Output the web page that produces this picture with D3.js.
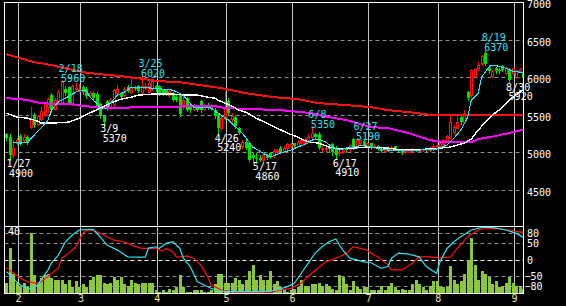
<!DOCTYPE html>
<html>
<head>
<meta charset="utf-8">
<script src="https://cdn.jsdelivr.net/npm/d3@7"></script>
<style>
  html, body { margin: 0; padding: 0; background: #000; }
  svg { display: block; }
  text { font-family: "DejaVu Sans Mono", "Liberation Mono", monospace; font-size: 10px; }
</style>
</head>
<body>
<div id="chart"></div>
<script>
// ------- data (daily candles, index 0 = first trading day shown) -------
const opens = [
  5240,5200,4960,5130,5220,5170,5210,5340,5495,5380, 5450,5495,5600,5770,5580,5680,5670,5850,5870,5660,
  5840,5820,5870,5850,5760,5790,5780,5640,5480,5680, 5600,5640,5790,5780,5760,5870,5800,5860,5880,5800,
  5860,5800,5850,5880,5880,5830,5830,5760,5790,5740, 5760,5600,5720,5620,5580,5620,5690,5580,5620,5590,
  5570,5500,5330,5460,5690,5440,5470,5330,5080,5140, 5120,4960,4930,4930,4900,4960,4990,4960,5010,5060,
  5020,5060,5090,5120,5080,5130,5130,5170,5200,5240, 5250,5040,5040,5060,5110,5060,4990,5010,5050,5040,
  5180,5080,5120,5150,5090,5120,5070,5090,5050,5020, 5050,5040,5080,5040,5030,5000,5010,5020,5040,5020,
  5030,5050,5030,5040,5080,5090,5110,5150,5200,5270, 5330,5470,5400,5800,5760,6020,6120,6190,6330,6130,
  6020,6120,6100,6150,6060,6110,6060,6010,6090,6060
];
const highs = [
  5260,5240,5160,5190,5240,5250,5230,5610,5520,5500, 5600,5690,5740,5790,5720,5830,5960,5890,5890,5900,
  5920,5910,5900,5870,5820,5800,5800,5660,5500,5700, 5730,5850,5900,5800,5870,5900,6010,5880,5900,6020,
  5930,5950,5970,5900,5900,5850,5840,5840,5800,5760, 5780,5780,5740,5640,5640,5630,5700,5640,5660,5640,
  5590,5510,5480,5820,5720,5520,5480,5340,5160,5160, 5140,5000,4990,4960,4980,4980,5000,5040,5050,5080,
  5080,5130,5130,5130,5160,5180,5200,5240,5350,5260, 5270,5080,5080,5080,5120,5080,5030,5050,5060,5120,
  5185,5190,5180,5170,5140,5130,5110,5100,5060,5050, 5060,5080,5090,5050,5040,5030,5040,5060,5050,5050,
  5060,5060,5070,5110,5130,5140,5180,5230,5500,5360, 5500,5500,5560,5820,6110,6130,6200,6300,6370,6160,
  6100,6140,6120,6170,6140,6130,6130,6100,6120,6080
];
const lows = [
  5170,4900,4940,5110,5100,5150,5110,5320,5340,5360, 5430,5480,5540,5540,5560,5650,5650,5760,5640,5630,
  5820,5800,5780,5730,5740,5700,5580,5460,5370,5570, 5580,5620,5760,5720,5740,5800,5790,5830,5800,5790,
  5840,5790,5830,5820,5770,5770,5760,5740,5690,5680, 5490,5580,5550,5540,5560,5550,5540,5560,5580,5570,
  5460,5240,5300,5440,5500,5400,5330,5250,5060,5040, 4880,4870,4860,4880,4880,4910,4930,4940,4990,4990,
  5000,5040,5070,5060,5070,5110,5120,5150,5190,5190, 5040,5020,5020,5020,4970,4910,4970,4990,5010,5020,
  5040,5060,5100,5090,5070,5050,5060,5030,5000,5010, 5020,5030,5040,5020,4980,4990,5000,5010,5020,5010,
  5020,5020,5020,5030,5070,5080,5100,5140,5190,5250, 5320,5380,5390,5700,5740,6000,6100,6170,6160,6060,
  6000,6060,6060,6080,6040,5920,6040,5990,6080,5980
];
const closes = [
  5190,4960,5060,5160,5120,5200,5120,5450,5360,5480, 5550,5670,5710,5560,5700,5800,5940,5790,5660,5880,
  5860,5850,5800,5750,5790,5720,5600,5480,5400,5590, 5700,5830,5850,5740,5840,5820,5870,5850,5820,5880,
  5890,5920,5950,5840,5790,5790,5780,5820,5700,5700, 5510,5700,5570,5560,5620,5570,5560,5620,5600,5610,
  5480,5330,5460,5600,5520,5480,5350,5260,5140,5060, 4900,4920,4910,4900,4960,4930,4950,5020,5030,5000,
  5060,5110,5110,5080,5140,5160,5180,5210,5260,5210, 5060,5060,5060,5040,5000,4960,5010,5030,5030,5100,
  5050,5160,5160,5100,5120,5060,5090,5040,5020,5040, 5030,5070,5050,5030,4990,5020,5030,5050,5030,5040,
  5050,5030,5060,5080,5100,5120,5170,5220,5400,5340, 5400,5400,5520,5720,6100,6110,6160,6290,6180,6080,
  6080,6080,6080,6100,6120,5960,6120,6080,6110,5990
];
const volumes = [
  7,30,13,7,4,7,4,40,12,7, 10,12,13,10,9,9,9,6,9,4,
  8,4,6,4,9,11,12,12,7,6, 7,11,9,11,6,5,9,7,6,7,
  7,7,7,2,1,2,1,3,2,4, 12,4,1,1,2,2,2,1,1,2,
  6,13,13,7,7,7,10,9,6,9, 15,19,9,12,9,9,15,6,8,4,
  3,1,2,3,4,9,5,5,6,6, 7,5,6,5,3,2,12,11,6,2,
  8,4,3,4,4,2,2,2,5,2, 5,7,4,2,3,2,2,6,9,6,
  4,2,5,8,8,4,4,4,18,9, 6,8,13,22,37,19,9,15,13,11,
  6,8,4,5,7,11,7,5,5,3
];

// moving averages: [day index, price]
const maShort = [[2,5127],[4,5123],[6,5127],[8,5229],[10,5322],[12,5429],[13,5562],[15,5672],[16,5695],[21,5828],
  [23,5828],[24,5739],[26,5655],[27,5589],[29,5589],[30,5655],[32,5762],[34,5802],[36,5868],[39,5864],[42,5855],
  [45,5842],[48,5828],[51,5762],[52,5700],[54,5602],[57,5602],[59,5589],[64,5429],[68,5256],[71,5069],[74,4989],
  [76,4936],[79,4989],[82,5029],[84,5069],[87,5123],[88,5162],[90,5176],[92,5136],[94,5069],[96,5029],[98,5056],
  [100,5069],[103,5096],[105,5069],[110,5029],[114,5029],[119,5029],[124,5043],[127,5096],[129,5189],[131,5296],
  [133,5469],[134,5695],[136,5788],[137,6001],[139,6134],[140,6161],[142,6148],[144,6121],[146,6081],[148,6068],[149,6060]];
const maMid = [[0,5522],[3,5469],[6,5455],[9,5415],[10,5389],[13,5389],[18,5402],[21,5455],[24,5522],[27,5589],
  [30,5655],[33,5708],[36,5735],[38,5762],[42,5775],[48,5775],[52,5762],[55,5762],[58,5735],[60,5722],[61,5695],
  [63,5655],[65,5615],[67,5562],[69,5535],[72,5455],[75,5389],[78,5322],[81,5256],[84,5202],[87,5136],[90,5123],
  [93,5069],[96,5043],[100,5056],[104,5069],[110,5056],[114,5029],[122,5043],[128,5069],[132,5123],[134,5176],
  [136,5296],[140,5495],[142,5562],[144,5655],[146,5735],[148,5802],[149,5830]];
const maLong = [[0,5722],[4,5708],[6,5695],[10,5655],[15,5642],[19,5642],[22,5615],[27,5602],[32,5589],[38,5602],
  [46,5602],[52,5615],[60,5615],[63,5589],[71,5575],[79,5562],[88,5522],[93,5469],[98,5429],[103,5362],[105,5336],
  [110,5322],[116,5256],[122,5162],[126,5136],[134,5136],[136,5176],[141,5216],[146,5269],[149,5300]];
const maYear = [[0,6308],[2,6281],[5,6241],[8,6201],[10,6188],[13,6161],[17,6121],[22,6068],[27,6041],[33,6015],
  [38,5988],[44,5948],[50,5935],[56,5895],[62,5855],[69,5788],[77,5735],[84,5708],[90,5655],[98,5629],[105,5602],
  [110,5562],[116,5535],[123,5495],[149,5495]];

// oscillator (lower panel): [day index, value]
const oscFast = [[0,-36],[1,-46],[2,-58],[4,-76],[6,-85],[7,-88],[9,-76],[10,-61],[12,-31],[13,-10],[15,13],[17,53],
  [19,73],[21,88],[24,90],[25,90],[27,68],[29,43],[32,28],[35,8],[38,7],[40,7],[41,34],[43,38],[44,33],[46,48],[48,53],
  [50,33],[51,4],[53,-21],[55,-66],[57,-76],[59,-86],[61,-94],[64,-96],[74,-96],[78,-91],[81,-81],[83,-71],[85,-41],
  [87,-11],[89,19],[91,38],[93,53],[95,61],[96,43],[97,28],[99,4],[101,-1],[103,-7],[105,-9],[108,-26],[110,-21],
  [111,4],[113,19],[116,16],[119,8],[121,-21],[124,-41],[125,-7],[127,33],[129,53],[131,68],[134,88],[137,96],
  [140,96],[144,88],[147,78],[149,66]];
const oscSlow = [[0,-25],[2,-40],[4,-55],[6,-66],[9,-71],[10,-66],[12,-51],[15,-25],[16,4],[18,19],[20,38],[22,78],
  [23,85],[25,88],[27,78],[29,68],[31,58],[34,53],[36,43],[39,33],[41,33],[43,33],[45,25],[46,33],[48,23],[49,8],
  [51,8],[52,11],[54,4],[56,-16],[58,-51],[59,-76],[62,-91],[66,-98],[76,-98],[79,-91],[82,-86],[85,-71],[88,-41],
  [92,-7],[96,8],[98,19],[100,38],[102,33],[104,28],[105,19],[107,8],[110,-16],[111,-31],[114,-31],[117,-11],
  [119,8],[122,8],[125,5],[128,8],[130,33],[133,68],[136,88],[137,91],[141,93],[145,88],[149,80]];

// ticks and labels
const priceTicks = [7000, 6500, 6000, 5500, 5000, 4500];
const oscTicks = [80, 50, 0, -50, -80];
const volLabel = 40;
const monthLabels = ["2","3","4","5","6","7","8","9"];
const monthStart = [4, 22, 44, 64, 83, 105, 125, 147];

// marked highs / lows
const markIdx  = [1, 16, 28, 39, 61, 72, 88, 95, 101, 138, 145];
const markDate = ["1/27","2/18","3/9","3/25","4/26","5/17","6/8","6/17","6/27","8/19","8/30"];
const markKind = ["low","high","low","high","low","low","high","low","high","high","low"];

// ------- drawing -------
const W = 566, H = 306;
const L = 4.5, R = 523.5, T = 2.5, MID = 226.5, B = 293.5;
const UP = "#ff1010", DOWN = "#00e000", CYAN = "#33e0f0";

const svg = d3.select("#chart").append("svg")
  .attr("width", W).attr("height", H)
  .style("background", "#000");

const n = opens.length;
const x = d3.scaleLinear().domain([0, n - 1]).range([6.4, 6.4 + 3.469 * (n - 1)]);
const xEdge = d3.scaleLinear().domain(x.domain()).range(x.range().map(v => v - 2.3));
const y = d3.scaleLinear().domain([4500, 7000]).range([189.75, 2.3]);
const yOsc = d3.scaleLinear().domain([-100, 100]).range([293, 226]);
const yVol = d3.scaleLinear().domain([0, volLabel]).range([293, 233]);

const defs = svg.append("defs");
defs.append("clipPath").attr("id", "clipMain")
  .append("rect").attr("x", L).attr("y", T).attr("width", R - L).attr("height", MID - T);
defs.append("clipPath").attr("id", "clipLow")
  .append("rect").attr("x", L).attr("y", MID).attr("width", R - L).attr("height", B - MID);

// vertical month lines through both panels
svg.append("g").selectAll("line").data(monthStart).join("line")
  .attr("x1", d => Math.round(xEdge(d)) + 0.5).attr("x2", d => Math.round(xEdge(d)) + 0.5)
  .attr("y1", T).attr("y2", B)
  .attr("stroke", "#c4c4c4").attr("stroke-width", 1);

// dashed price lines
svg.append("g").selectAll("line").data(priceTicks.filter(d => d < 7000)).join("line")
  .attr("x1", L).attr("x2", R)
  .attr("y1", d => Math.round(y(d)) + 0.5).attr("y2", d => Math.round(y(d)) + 0.5)
  .attr("stroke", "#8c8c8c").attr("stroke-dasharray", "4,3");

// dashed oscillator lines
svg.append("g").selectAll("line").data(oscTicks).join("line")
  .attr("x1", L).attr("x2", R)
  .attr("y1", d => Math.round(yOsc(d)) + 0.5).attr("y2", d => Math.round(yOsc(d)) + 0.5)
  .attr("stroke", d => d === 0 ? "#ffffff" : "#8c8c8c").attr("stroke-dasharray", "4,3");

// ------- main panel -------
const gMain = svg.append("g").attr("clip-path", "url(#clipMain)");

const idx = d3.range(n);
const cg = gMain.append("g").attr("shape-rendering", "crispEdges");
cg.selectAll("line.wick").data(idx).join("line").attr("class", "wick")
  .attr("x1", i => Math.round(x(i)) + 0.5).attr("x2", i => Math.round(x(i)) + 0.5)
  .attr("y1", i => Math.round(y(highs[i]))).attr("y2", i => Math.round(y(lows[i])) + 1)
  .attr("stroke", i => closes[i] >= opens[i] ? UP : DOWN);

cg.selectAll("rect.up").data(idx.filter(i => closes[i] >= opens[i])).join("rect").attr("class", "up")
  .attr("x", i => Math.round(x(i)) - 0.5)
  .attr("y", i => Math.round(y(closes[i])) + 0.5)
  .attr("width", 2)
  .attr("height", i => Math.max(1, Math.round(y(opens[i])) - Math.round(y(closes[i]))))
  .attr("fill", "#000").attr("stroke", UP);

cg.selectAll("rect.down").data(idx.filter(i => closes[i] < opens[i])).join("rect").attr("class", "down")
  .attr("x", i => Math.round(x(i)) - 1)
  .attr("y", i => Math.round(y(opens[i])))
  .attr("width", 3)
  .attr("height", i => Math.max(1, Math.round(y(closes[i])) - Math.round(y(opens[i]))))
  .attr("fill", DOWN);

const priceLine = d3.line().x(d => x(d[0])).y(d => y(d[1]));
[[maYear, UP, 2], [maLong, "#ff00ff", 2], [maMid, "#ffffff", 1.4], [maShort, CYAN, 1.1]]
  .forEach(([data, color, w]) => {
    gMain.append("path").datum(data)
      .attr("fill", "none").attr("stroke", color).attr("stroke-width", w)
      .attr("shape-rendering", "crispEdges")
      .attr("d", priceLine);
  });

// high / low marks
markIdx.forEach((i, k) => {
  const isHigh = markKind[k] === "high";
  const price = isHigh ? highs[i] : lows[i];
  const py = y(price);
  const tx = x(i) - 3.3;
  const b1 = isHigh ? py - 8.5 : py + 7.5;
  const b2 = isHigh ? py + 1.5 : py + 17;
  const col = isHigh ? CYAN : "#ffffff";
  svg.append("text").attr("x", tx).attr("y", b1).attr("fill", col).text(markDate[k]);
  svg.append("text").attr("x", tx + 2.5).attr("y", b2).attr("fill", col).text(price);
});

// ------- lower panel -------
const gLow = svg.append("g").attr("clip-path", "url(#clipLow)");
gLow.append("g").attr("shape-rendering", "crispEdges")
  .selectAll("rect").data(idx).join("rect")
  .attr("x", i => Math.round(x(i)) - 1)
  .attr("y", i => Math.round(yVol(volumes[i])))
  .attr("width", 3)
  .attr("height", i => 293 - Math.round(yVol(volumes[i])))
  .attr("fill", "#8cc63e");

const oscLine = d3.line().x(d => x(d[0])).y(d => yOsc(d[1]));
[[oscSlow, UP], [oscFast, CYAN]].forEach(([data, color]) => {
  gLow.append("path").datum(data)
    .attr("fill", "none").attr("stroke", color).attr("stroke-width", 1.2)
    .attr("d", oscLine);
});

// frames
svg.append("rect").attr("x", L).attr("y", T).attr("width", R - L).attr("height", MID - T)
  .attr("fill", "none").attr("stroke", "#fff");
svg.append("rect").attr("x", L).attr("y", MID).attr("width", R - L).attr("height", B - MID)
  .attr("fill", "none").attr("stroke", "#fff");

// ------- axes -------
const styleAxis = (g, color) => {
  g.select(".domain").remove();
  g.selectAll("line").remove();
  g.attr("font-family", null).attr("font-size", null);
  g.selectAll("text").attr("fill", color);
};

svg.append("g").attr("transform", "translate(527,2.4)")
  .call(d3.axisRight(y).tickValues(priceTicks).tickSize(0).tickPadding(0).tickFormat(d3.format("d")))
  .call(g => styleAxis(g, "#fff"));

svg.append("g").attr("transform", "translate(527,0.3)")
  .call(d3.axisRight(yOsc).tickValues(oscTicks).tickSize(0).tickPadding(0).tickFormat(d3.format("d")))
  .call(g => styleAxis(g, "#fff"))
  .call(g => g.selectAll("text").attr("dx", d => d < 0 ? -2.5 : 0));

svg.append("g").attr("transform", "translate(0,294)")
  .call(d3.axisBottom(xEdge).tickValues(monthStart).tickSize(0).tickPadding(0)
    .tickFormat((d, k) => monthLabels[k]))
  .call(g => styleAxis(g, "#eee6a0"))
  .call(g => g.selectAll("text").attr("dy", "0.71em").attr("y", 1));

svg.append("text").attr("x", 8).attr("y", 235).attr("fill", "#fff").text(volLabel);
</script>
</body>
</html>
